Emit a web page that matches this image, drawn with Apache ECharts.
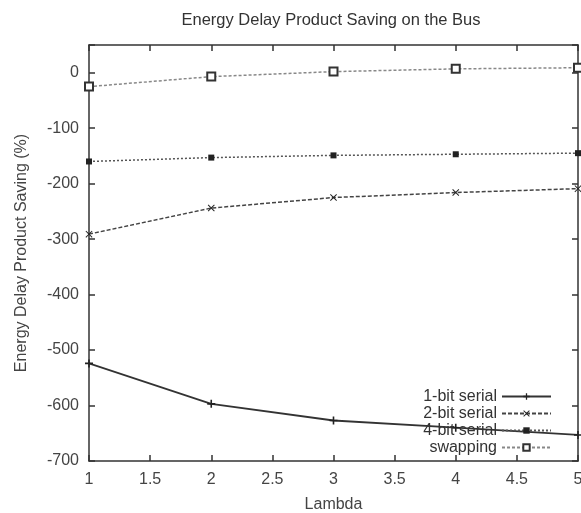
<!DOCTYPE html>
<html><head><meta charset="utf-8">
<script src="https://cdn.jsdelivr.net/npm/echarts@6/dist/echarts.min.js"></script>
<style>html,body{margin:0;padding:0;background:#fff}#c{width:581px;height:513px}</style>
</head><body><div id="c"></div>
<script>
const lambda = [1, 2, 3, 4, 5];
const oneBit = [-524, -597, -627, -640, -653];
const twoBit = [-291, -244, -225, -216, -209];
const fourBit = [-160, -153, -149, -147, -145];
const swapping = [-25, -7, 2, 7, 9];
const seriesNames = ['1-bit serial', '2-bit serial', '4-bit serial', 'swapping'];

const plusPath = 'path://M4,0H6V4H10V6H6V10H4V6H0V4H4Z';
const crossPath = 'path://M1,0L5,4L9,0L10,1L6,5L10,9L9,10L5,6L1,10L0,9L4,5L0,1Z';
const font = 'Liberation Sans';
const pairs = arr => lambda.map((x, i) => [x, arr[i]]);

const chart = echarts.init(document.getElementById('c'));
const axisLineStyle = {color: '#333', width: 1.5};
const fs = 16;
chart.setOption({
  animation: false,
  textStyle: {fontFamily: font},
  title: {text: 'Energy Delay Product Saving on the Bus', left: 326, top: 7, textAlign: 'center',
    textStyle: {fontSize: 16.5, fontWeight: 'normal', color: '#333', fontFamily: font}},
  grid: {left: 89, right: 3, top: 45, bottom: 52, containLabel: false, outerBoundsMode: 'none'},
  legend: {
    orient: 'vertical', right: 24, top: 383, align: 'right', itemGap: 0,
    itemWidth: 49, itemHeight: 8,
    textStyle: {fontSize: fs, color: '#333', fontFamily: font, lineHeight: 17},
    data: seriesNames
  },
  xAxis: [{
    type: 'value', min: 1, max: 5, interval: 0.5,
    name: 'Lambda', nameLocation: 'middle', nameGap: 36,
    nameTextStyle: {fontSize: fs, color: '#444', fontFamily: font},
    axisLine: {onZero: false, lineStyle: axisLineStyle}, axisTick: {inside: true, length: 6, lineStyle: axisLineStyle},
    axisLabel: {fontSize: fs, color: '#444', margin: 11}, splitLine: {show: false}
  }, {
    type: 'value', min: 1, max: 5, interval: 0.5, position: 'top',
    axisLine: {onZero: false, lineStyle: axisLineStyle}, axisTick: {inside: true, length: 6, lineStyle: axisLineStyle},
    axisLabel: {show: false}, splitLine: {show: false}
  }],
  yAxis: [{
    type: 'value', min: -700, max: 50, interval: 100,
    name: 'Energy Delay Product Saving (%)', nameLocation: 'middle', nameGap: 59,
    nameTextStyle: {fontSize: fs, color: '#444', fontFamily: font},
    axisLine: {onZero: false, lineStyle: axisLineStyle}, axisTick: {inside: true, length: 6, lineStyle: axisLineStyle},
    axisLabel: {fontSize: fs, color: '#444', margin: 10, formatter: v => (v % 100 === 0 ? String(v) : '')},
    splitLine: {show: false}
  }, {
    type: 'value', min: -700, max: 50, interval: 100, position: 'right',
    axisLine: {onZero: false, lineStyle: axisLineStyle}, axisTick: {inside: true, length: 6, lineStyle: axisLineStyle},
    axisLabel: {show: false}, splitLine: {show: false}
  }],
  series: [
    {name: seriesNames[0], type: 'line', data: pairs(oneBit), symbol: plusPath, symbolSize: 8,
      itemStyle: {color: '#222'}, lineStyle: {color: '#333', width: 1.8, type: 'solid'}},
    {name: seriesNames[1], type: 'line', data: pairs(twoBit), symbol: crossPath, symbolSize: 7,
      itemStyle: {color: '#222'}, lineStyle: {color: '#444', width: 1.5, type: [4, 2]}},
    {name: seriesNames[2], type: 'line', data: pairs(fourBit), symbol: 'rect', symbolSize: 6,
      itemStyle: {color: '#222'}, lineStyle: {color: '#555', width: 1.5, type: [2, 2]}},
    {name: seriesNames[3], type: 'line', data: pairs(swapping), symbol: 'emptyRect', symbolSize: 8,
      itemStyle: {color: '#333', borderWidth: 1.5}, lineStyle: {color: '#888', width: 1.5, type: [3, 2]}}
  ]
});
</script></body></html>
